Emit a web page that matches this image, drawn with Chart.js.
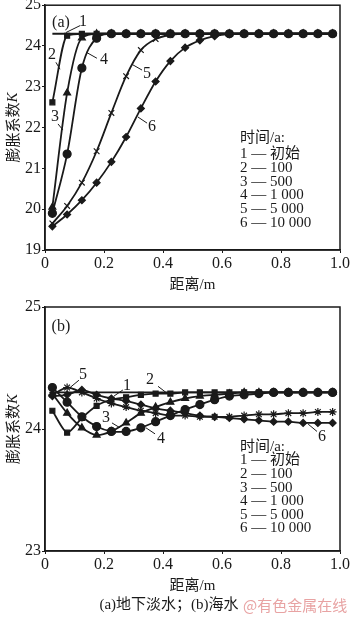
<!DOCTYPE html>
<html>
<head>
<meta charset="utf-8">
<title>膨胀系数K 随距离变化</title>
<script src="https://cdn.jsdelivr.net/npm/chart.js@4.4.1/dist/chart.umd.min.js"></script>
<style>
    html, body { margin: 0; padding: 0; background: #fff; }
    #wrap { position: relative; width: 350px; height: 617px; overflow: hidden; }
    #wrap canvas { position: absolute; left: 0; }
    #chartA { top: 0; width: 350px; height: 300px; }
    #chartB { top: 300px; width: 350px; height: 317px; }
</style>
</head>
<body>
<div id="wrap">
    <canvas id="chartA" width="350" height="300"></canvas>
    <canvas id="chartB" width="350" height="317"></canvas>
</div>
<script>
// Distance from the surface (m), same sampling in both panels
const distance = [0.025, 0.075, 0.125, 0.175, 0.225, 0.275, 0.325, 0.375, 0.425, 0.475,
                  0.525, 0.575, 0.625, 0.675, 0.725, 0.775, 0.825, 0.875, 0.925, 0.975];

const xTickLabels = ['0', '0.2', '0.4', '0.6', '0.8', '1.0'];
const legendTitle = '时间/a:';
const timeLabels = ['初始', '100', '500', '1 000', '5 000', '10 000'];

// (a) groundwater
const aInit  = [24.3, 24.3, 24.3, 24.3, 24.3, 24.3, 24.3, 24.3, 24.3, 24.3, 24.3, 24.3, 24.3, 24.3, 24.3, 24.3, 24.3, 24.3, 24.3, 24.3];
const a100   = [22.62, 24.25, 24.3, 24.3, 24.3, 24.3, 24.3, 24.3, 24.3, 24.3, 24.3, 24.3, 24.3, 24.3, 24.3, 24.3, 24.3, 24.3, 24.3, 24.3];
const a500   = [20.05, 22.85, 24.2, 24.3, 24.3, 24.3, 24.3, 24.3, 24.3, 24.3, 24.3, 24.3, 24.3, 24.3, 24.3, 24.3, 24.3, 24.3, 24.3, 24.3];
const a1000  = [19.9, 21.35, 23.46, 24.19, 24.3, 24.3, 24.3, 24.3, 24.3, 24.3, 24.3, 24.3, 24.3, 24.3, 24.3, 24.3, 24.3, 24.3, 24.3, 24.3];
const a5000  = [19.65, 20.08, 20.65, 21.42, 22.36, 23.26, 23.9, 24.17, 24.27, 24.3, 24.3, 24.3, 24.3, 24.3, 24.3, 24.3, 24.3, 24.3, 24.3, 24.3];
const a10000 = [19.58, 19.87, 20.22, 20.65, 21.16, 21.77, 22.47, 23.13, 23.63, 23.96, 24.14, 24.24, 24.29, 24.3, 24.3, 24.3, 24.3, 24.3, 24.3, 24.3];

// (b) seawater
const bInit  = [24.3, 24.3, 24.3, 24.3, 24.3, 24.3, 24.3, 24.3, 24.3, 24.3, 24.3, 24.3, 24.3, 24.3, 24.3, 24.3, 24.3, 24.3, 24.3, 24.3];
const b100   = [24.15, 23.97, 24.09, 24.19, 24.24, 24.26, 24.28, 24.29, 24.29, 24.3, 24.3, 24.3, 24.3, 24.3, 24.3, 24.3, 24.3, 24.3, 24.3, 24.3];
const b500   = [24.29, 24.13, 24.01, 23.95, 23.98, 24.05, 24.13, 24.18, 24.22, 24.25, 24.27, 24.28, 24.29, 24.3, 24.3, 24.3, 24.3, 24.3, 24.3, 24.3];
const b1000  = [24.34, 24.22, 24.1, 24.02, 23.98, 23.98, 24.01, 24.06, 24.11, 24.16, 24.2, 24.24, 24.27, 24.28, 24.29, 24.3, 24.3, 24.3, 24.3, 24.3];
const b5000  = [24.28, 24.34, 24.3, 24.25, 24.21, 24.18, 24.15, 24.13, 24.11, 24.11, 24.1, 24.1, 24.1, 24.11, 24.12, 24.12, 24.13, 24.13, 24.14, 24.14];
const b10000 = [24.27, 24.28, 24.32, 24.28, 24.25, 24.23, 24.2, 24.17, 24.15, 24.13, 24.11, 24.1, 24.09, 24.08, 24.07, 24.06, 24.06, 24.05, 24.05, 24.05];

const INK = '#1a1a1a';
const SERIF = '"Liberation Serif", "Times New Roman", "Noto Sans CJK SC", serif';
const CJK = '"Noto Sans CJK SC", sans-serif';

function toPoints(values) {
    return distance.map((x, i) => ({ x: x, y: values[i] }));
}

function series(values, shape, radius, smooth) {
    return {
        data: toPoints(values),
        borderColor: INK,
        backgroundColor: INK,
        borderWidth: 1.8,
        pointStyle: shape || 'circle',
        pointRadius: shape ? radius : 0,
        pointBorderWidth: 1.2,
        pointBorderColor: INK,
        pointBackgroundColor: INK,
        cubicInterpolationMode: smooth ? 'monotone' : 'default',
        tension: smooth ? 0.4 : 0.25,
        fill: false
    };
}

// Frame, axis titles, curve numbers, legend block and caption
function decorPlugin(cfg) {
    return {
        id: 'decor',
        afterDraw(chart) {
            const ctx = chart.ctx;
            const a = chart.chartArea;
            const xs = chart.scales.x, ys = chart.scales.y;
            ctx.save();

            ctx.strokeStyle = INK;
            ctx.lineWidth = 1.5;
            ctx.strokeRect(a.left, a.top, a.right - a.left, a.bottom - a.top);

            ctx.fillStyle = INK;
            ctx.textBaseline = 'middle';

            // y title with italic K
            ctx.save();
            ctx.translate(12, (a.top + a.bottom) / 2);
            ctx.rotate(-Math.PI / 2);
            ctx.font = '15px ' + CJK;
            const w1 = ctx.measureText('膨胀系数').width;
            ctx.font = 'italic 15px ' + SERIF;
            const w2 = ctx.measureText('K').width;
            let sx = -(w1 + w2) / 2;
            ctx.textAlign = 'left';
            ctx.font = '15px ' + CJK;
            ctx.fillText('膨胀系数', sx, 0);
            ctx.font = 'italic 15px ' + SERIF;
            ctx.fillText('K', sx + w1, 1);
            ctx.restore();

            // x title
            ctx.textAlign = 'center';
            ctx.font = '15px ' + SERIF;
            ctx.fillText('距离/m', (a.left + a.right) / 2, a.bottom + 35);

            // panel tag
            ctx.font = '16px ' + SERIF;
            ctx.fillText(cfg.tag, xs.getPixelForValue(cfg.tagAt[0]), ys.getPixelForValue(cfg.tagAt[1]));

            // curve numbers with leader lines
            ctx.lineWidth = 1;
            cfg.marks.forEach(m => {
                ctx.beginPath();
                ctx.moveTo(xs.getPixelForValue(m.from[0]), ys.getPixelForValue(m.from[1]));
                ctx.lineTo(xs.getPixelForValue(m.to[0]), ys.getPixelForValue(m.to[1]));
                ctx.stroke();
                ctx.fillText(m.t, xs.getPixelForValue(m.at[0]), ys.getPixelForValue(m.at[1]));
            });

            // legend block
            ctx.textAlign = 'left';
            ctx.font = '15px ' + SERIF;
            const lx = a.left + cfg.legend.dx;
            ctx.fillText(legendTitle, lx, a.top + cfg.legend.dy);
            timeLabels.forEach((t, i) => {
                ctx.fillText((i + 1) + ' — ' + t, lx, a.top + cfg.legend.dy + cfg.legend.first + i * cfg.legend.step);
            });

            if (cfg.caption) {
                ctx.textAlign = 'center';
                ctx.font = '15px ' + SERIF;
                ctx.fillText(cfg.caption, 169, a.bottom + 54);
                ctx.textAlign = 'left';
                ctx.fillStyle = '#e8a3a3';
                ctx.font = '15px ' + CJK;
                ctx.fillText('@有色金属在线', 243, a.bottom + 54);
            }
            ctx.restore();
        }
    };
}

function buildOptions(yMin, yMax, xHeight) {
    return {
        responsive: false,
        animation: false,
        layout: { padding: { left: 0, right: 10, top: 0, bottom: 0 } },
        plugins: { legend: { display: false }, tooltip: { enabled: false } },
        scales: {
            x: {
                type: 'linear',
                min: 0,
                max: 1,
                ticks: {
                    stepSize: 0.2,
                    color: INK,
                    padding: 1,
                    font: { family: SERIF, size: 16 },
                    callback: (v, i) => xTickLabels[i]
                },
                grid: { display: true, drawOnChartArea: false, tickLength: 3, color: INK },
                border: { display: true, color: INK, width: 1.5 },
                afterFit: s => { s.height = xHeight; s.paddingLeft = 0; s.paddingRight = 0; }
            },
            y: {
                min: yMin,
                max: yMax,
                ticks: {
                    stepSize: 1,
                    color: INK,
                    padding: 1,
                    font: { family: SERIF, size: 16 }
                },
                grid: { display: true, drawOnChartArea: false, tickLength: 3, color: INK },
                border: { display: true, color: INK, width: 1.5 },
                afterFit: s => { s.width = 45; s.paddingTop = 0; s.paddingBottom = 0; }
            }
        }
    };
}

// Panel (a)
const optsA = buildOptions(19, 25, 50);
optsA.layout.padding.top = 5;
new Chart(document.getElementById('chartA'), {
    type: 'line',
    data: {
        datasets: [
            series(aInit, null, 0, true),
            series(a100, 'rect', 3.5, true),
            series(a500, 'triangle', 4, true),
            series(a1000, 'circle', 4, true),
            series(a5000, 'crossRot', 4, true),
            series(a10000, 'rectRot', 3.5, true)
        ]
    },
    options: optsA,
    plugins: [decorPlugin({
        tag: '(a)',
        tagAt: [0.054, 24.56],
        marks: [
            { t: '1', at: [0.129, 24.6], from: [0.071, 24.33], to: [0.119, 24.5] },
            { t: '2', at: [0.024, 23.78], from: [0.037, 23.6], to: [0.051, 23.43] },
            { t: '3', at: [0.034, 22.26], from: [0.044, 22.09], to: [0.061, 21.94] },
            { t: '4', at: [0.2, 23.65], from: [0.139, 23.85], to: [0.176, 23.7] },
            { t: '5', at: [0.346, 23.31], from: [0.295, 23.55], to: [0.329, 23.41] },
            { t: '6', at: [0.363, 22.01], from: [0.315, 22.26], to: [0.346, 22.11] }
        ],
        legend: { dx: 195, dy: 133, first: 16, step: 13.7 }
    })]
});

// Panel (b)
const optsB = buildOptions(23, 25, 66);
optsB.layout.padding.top = 7;
new Chart(document.getElementById('chartB'), {
    type: 'line',
    data: {
        datasets: [
            series(bInit, null, 0, false),
            series(b100, 'rect', 3.5, false),
            series(b500, 'triangle', 4, false),
            series(b1000, 'circle', 4, false),
            series(b5000, 'star', 4, false),
            series(b10000, 'rectRot', 3.5, false)
        ]
    },
    options: optsB,
    plugins: [decorPlugin({
        tag: '(b)',
        tagAt: [0.054, 24.84],
        marks: [
            { t: '5', at: [0.129, 24.445], from: [0.085, 24.34], to: [0.115, 24.4] },
            { t: '1', at: [0.278, 24.355], from: [0.234, 24.27], to: [0.264, 24.32] },
            { t: '2', at: [0.356, 24.4], from: [0.383, 24.35], to: [0.41, 24.3] },
            { t: '3', at: [0.207, 24.09], from: [0.227, 24.05], to: [0.254, 24.01] },
            { t: '4', at: [0.393, 23.92], from: [0.342, 24.01], to: [0.373, 23.96] },
            { t: '6', at: [0.939, 23.94], from: [0.892, 24.04], to: [0.922, 23.98] }
        ],
        legend: { dx: 195, dy: 140, first: 13.5, step: 13.6 },
        caption: '(a)地下淡水；(b)海水'
    })]
});
</script>
</body>
</html>
